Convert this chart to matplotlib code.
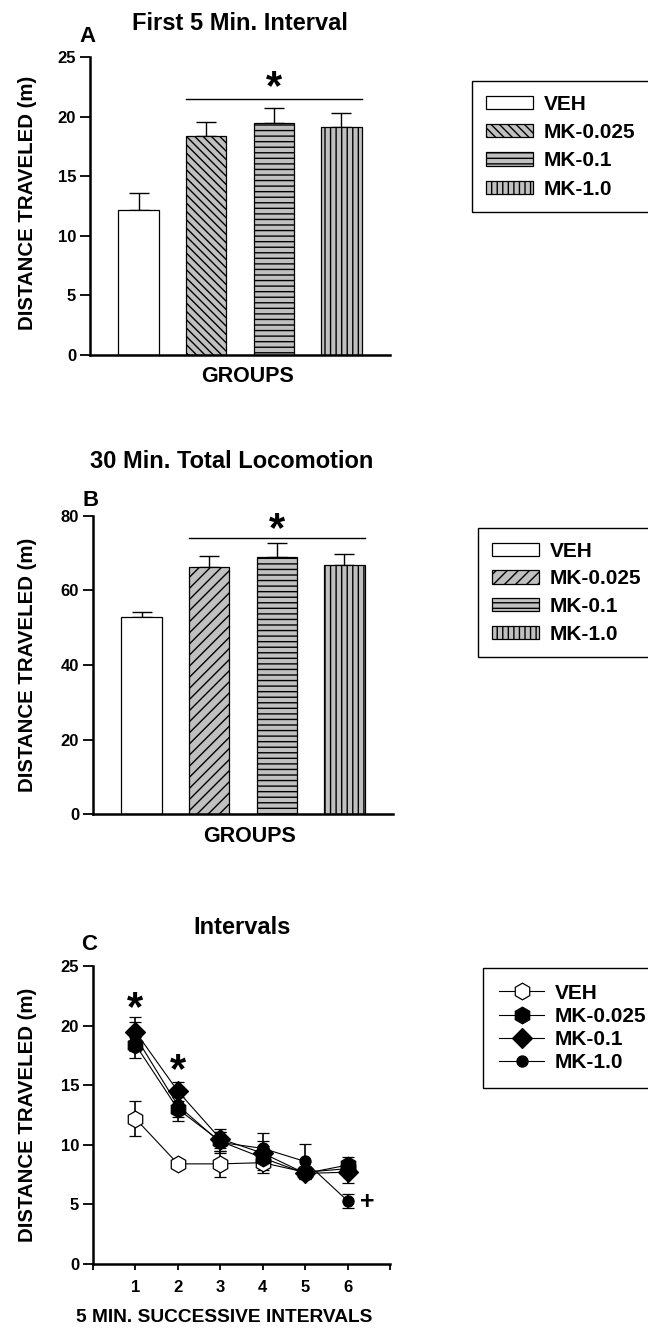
import numpy as np
import matplotlib
matplotlib.use("Agg")
import matplotlib.pyplot as plt
from matplotlib.lines import Line2D

plt.rcParams['font.family'] = ['Liberation Sans', 'DejaVu Sans']
plt.rcParams['font.weight'] = 'bold'
plt.rcParams['hatch.linewidth'] = 1.0

# group means / SEM
groups = ['VEH', 'MK-0.025', 'MK-0.1', 'MK-1.0']
first5_mean = [12.2, 18.4, 19.5, 19.1]
first5_sem = [1.4, 1.15, 1.2, 1.2]
total30_mean = [53.0, 66.3, 69.0, 66.8]
total30_sem = [1.2, 3.0, 3.7, 3.0]

intervals = [1, 2, 3, 4, 5, 6]
veh_int = [12.2, 8.4, 8.4, 8.5, 7.7, 8.0]
veh_err = [1.45, 0.3, 1.1, 0.9, 0.5, 0.5]
mk025_int = [18.4, 13.0, 10.3, 8.9, 7.6, 8.3]
mk025_err = [1.1, 1.0, 0.8, 1.0, 0.4, 0.7]
mk01_int = [19.5, 14.5, 10.5, 9.3, 7.6, 7.7]
mk01_err = [1.2, 0.8, 0.8, 1.0, 0.5, 0.9]
mk10_int = [19.1, 13.3, 10.2, 9.7, 8.6, 5.3]
mk10_err = [1.2, 1.0, 0.9, 1.3, 1.5, 0.6]

W, H = 648, 1328
fig = plt.figure(figsize=(W / 100, H / 100), dpi=100)


def fx(x):
    return x / W


def fy(y):
    return 1 - y / H


def box(l, t, r, b):
    return [fx(l), fy(b), (r - l) / W, (b - t) / H]


def style_axes(ax):
    for s in ['top', 'right']:
        ax.spines[s].set_visible(False)
    for s in ['left', 'bottom']:
        ax.spines[s].set_linewidth(1.8)
    ax.tick_params(axis='y', direction='out', length=7, width=1.3, pad=3, labelsize=12)
    for lab in ax.get_yticklabels():
        lab.set_fontweight('bold')


def star(ax, x, y, s='*', fs=30, k=0.58):
    ax.annotate(s, (x, y), xytext=(0, -k * fs), textcoords='offset points',
                ha='center', va='baseline', fontsize=fs, fontweight='bold')


legend_kw = dict(loc='upper left', borderaxespad=0, frameon=True, fancybox=False,
                 edgecolor='black', framealpha=1, handletextpad=0.5,
                 prop={'weight': 'bold', 'size': 15})


def bar_panel(ax, means, sems, hatches, ymax, yticks, sig_y, star_y):
    x = np.arange(1, 5)
    colors = ['white', '#c0c0c0', '#c0c0c0', '#c0c0c0']
    bars = ax.bar(x, means, width=0.6, color=colors, edgecolor='black',
                  linewidth=0.9, zorder=2)
    for b, h in zip(bars, hatches):
        b.set_hatch(h)
    ax.errorbar(x, means, yerr=[np.zeros(4), sems], fmt='none', ecolor='black',
                elinewidth=1.0, capsize=7, capthick=1.0, zorder=1)
    ax.set_xlim(0.28, 4.72)
    ax.set_ylim(0, ymax)
    ax.set_yticks(yticks)
    ax.set_xticks([])
    ax.plot([1.7, 4.3], [sig_y, sig_y], color='black', lw=1.0, clip_on=False)
    star(ax, 3, star_y)
    style_axes(ax)
    return bars


# ---- A: first 5 min
axA = fig.add_axes(box(90, 57, 390, 355))
barsA = bar_panel(axA, first5_mean, first5_sem, ['', '\\\\\\\\', '---', '|||'],
                  25, [0, 5, 10, 15, 20, 25], 21.5, 23.5)
fig.text(fx(240), fy(24), 'First 5 Min. Interval', ha='center', va='center', fontsize=17)
fig.text(fx(88), fy(37), 'A', ha='center', va='center', fontsize=16)
fig.text(fx(247), fy(377), 'GROUPS', ha='center', va='center', fontsize=15.5)
fig.text(fx(28), fy(203), 'DISTANCE TRAVELED (m)', rotation=90, ha='center', va='center', fontsize=14.7)
fig.legend(handles=list(barsA), labels=groups, bbox_to_anchor=(fx(472), fy(81)),
           handlelength=2.3, handleheight=0.6, labelspacing=0.45, borderpad=0.65,
           **legend_kw)

# ---- B: 30 min total
axB = fig.add_axes(box(93, 516, 393, 814))
barsB = bar_panel(axB, total30_mean, total30_sem, ['', '///', '---', '|||'],
                  80, [0, 20, 40, 60, 80], 74, 79.7)
fig.text(fx(232), fy(462), '30 Min. Total Locomotion', ha='center', va='center', fontsize=17)
fig.text(fx(91), fy(500), 'B', ha='center', va='center', fontsize=16)
fig.text(fx(249), fy(837), 'GROUPS', ha='center', va='center', fontsize=15.5)
fig.text(fx(28), fy(665), 'DISTANCE TRAVELED (m)', rotation=90, ha='center', va='center', fontsize=14.7)
fig.legend(handles=list(barsB), labels=groups, bbox_to_anchor=(fx(478), fy(528)),
           handlelength=2.3, handleheight=0.6, labelspacing=0.42, borderpad=0.65,
           **legend_kw)

# ---- C: successive intervals
axC = fig.add_axes(box(93, 966, 390, 1264))
series = [
    (veh_int, veh_err, 'h', 'white', 12),
    (mk025_int, mk025_err, 'h', 'black', 12),
    (mk01_int, mk01_err, 'D', 'black', 10),
    (mk10_int, mk10_err, 'o', 'black', 8),
]
handles = []
for vals, err, mk, fc, ms in series:
    axC.errorbar(intervals, vals, yerr=err, color='black', lw=0.8,
                 marker=mk, markersize=ms, markerfacecolor=fc,
                 markeredgecolor='black', markeredgewidth=0.9,
                 ecolor='black', elinewidth=1.2, capsize=4.5, capthick=1.2)
    handles.append(Line2D([], [], color='black', lw=0.8, marker=mk, markersize=ms,
                          markerfacecolor=fc, markeredgecolor='black',
                          markeredgewidth=0.9))
axC.set_xlim(0, 7)
axC.set_ylim(0, 25)
axC.set_xticks(range(0, 8))
axC.set_xticklabels(['', '1', '2', '3', '4', '5', '6', ''])
axC.set_yticks([0, 5, 10, 15, 20, 25])
style_axes(axC)
axC.tick_params(axis='x', direction='out', length=4.5, width=1.3, pad=7, labelsize=12)
for lab in axC.get_xticklabels():
    lab.set_fontweight('bold')
star(axC, 1, 22.5)
star(axC, 2, 17.3)
star(axC, 6.47, 5.3, s='+', fs=18, k=0.34)
fig.text(fx(242), fy(927), 'Intervals', ha='center', va='center', fontsize=17)
fig.text(fx(89), fy(945), 'C', ha='center', va='center', fontsize=16)
fig.text(fx(224), fy(1318), '5 MIN. SUCCESSIVE INTERVALS', ha='center', va='center', fontsize=13.8)
fig.text(fx(28), fy(1115), 'DISTANCE TRAVELED (m)', rotation=90, ha='center', va='center', fontsize=14.7)
fig.legend(handles=handles, labels=groups, bbox_to_anchor=(fx(483), fy(968)),
           handlelength=2.2, numpoints=1, labelspacing=0.2, borderpad=0.75,
           **legend_kw)

fig.savefig('out.png', dpi=100)
